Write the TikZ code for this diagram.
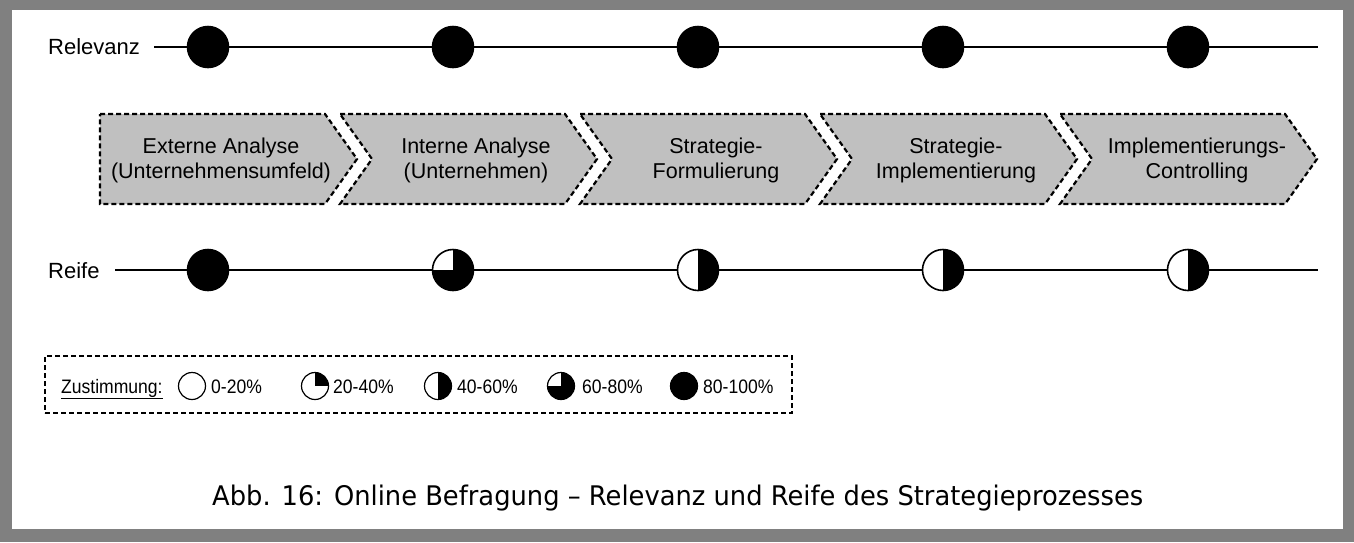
\documentclass[tikz,border=0pt]{standalone}
\usepackage{fontspec}
\usepackage{graphicx}
\setmainfont{Liberation Sans}
\newfontfamily\legfont[FakeStretch=0.9]{Liberation Sans}
\newfontfamily\capfont{DejaVu Sans}
\definecolor{framegray}{HTML}{808080}
\definecolor{chevgray}{HTML}{C0C0C0}
\begin{document}
\begin{tikzpicture}[x=1pt,y=-1pt,
  lbl/.style={inner sep=0pt, font=\fontsize{22}{26}\selectfont},
  ctext/.style={inner sep=0pt, align=center, font=\fontsize{21.5}{25}\selectfont},
  chev/.style={draw=black, fill=chevgray, line width=2.2pt, dash pattern=on 5pt off 3pt, line join=miter},
  rowline/.style={draw=black, line width=2pt},
  dot/.style={circle, draw=black, line width=1.6pt, minimum size=41pt, inner sep=0pt},
  ldot/.style={circle, draw=black, line width=1.2pt, minimum size=27pt, inner sep=0pt},
  pfull/.style={fill=black},
  pempty/.style={fill=white},
  pq1/.style={fill=white, path picture={\fill[black] (path picture bounding box.center) rectangle (path picture bounding box.north east);}},
  phalf/.style={fill=white, path picture={\fill[black] (path picture bounding box.south) rectangle (path picture bounding box.north east);}},
  pq3/.style={fill=black, path picture={\fill[white] (path picture bounding box.center) rectangle (path picture bounding box.north west);}},
  legbox/.style={draw=black, line width=2.2pt, dash pattern=on 5pt off 3pt, inner sep=0pt},
  legtxt/.style={inner sep=0pt, anchor=base west, font=\legfont\fontsize{19.5}{22}\selectfont},
]
\useasboundingbox (0,0) rectangle (1354,542);
% frame
\fill[framegray] (0,0) rectangle (1354,542);
\fill[white] (12,10) rectangle (1343,529);

% Relevanz row
\node[lbl, anchor=base west] (relLbl) at (48,54) {Relevanz};
\coordinate (relL) at (154,47);
\coordinate (relR) at (1318,47);
\node[dot,pfull] (r1) at (208,47) {};
\node[dot,pfull] (r2) at (453,47) {};
\node[dot,pfull] (r3) at (698,47) {};
\node[dot,pfull] (r4) at (943,47) {};
\node[dot,pfull] (r5) at (1188,47) {};
\draw[rowline] (relL) -- (r1) (r1) -- (r2) (r2) -- (r3) (r3) -- (r4) (r4) -- (r5) (r5) -- (relR);

% chevrons
\draw[chev] (100,114) -- (325,114) -- (357,159) -- (325,204) -- (100,204) -- cycle;
\foreach \s in {340,580,820,1060}{
  \draw[chev] (\s,114) -- ++(225,0) -- ++(32,45) -- ++(-32,45) -- ++(-225,0) -- ++(32,-45) -- cycle;
}
\node[ctext] (c1) at (221,160) {Externe Analyse\\(Unternehmensumfeld)};
\node[ctext] (c2) at (476,160) {Interne Analyse\\(Unternehmen)};
\node[ctext] (c3) at (716,160) {Strategie-\\Formulierung};
\node[ctext] (c4) at (956,160) {Strategie-\\Implementierung};
\node[ctext] (c5) at (1197,160) {Implementierungs-\\Controlling};

% Reife row
\node[lbl, anchor=base west] (reiLbl) at (48,278) {Reife};
\coordinate (reiL) at (115,270);
\coordinate (reiR) at (1318,270);
\node[dot,pfull] (f1) at (208,270) {};
\node[dot,pq3] (f2) at (453,270) {};
\node[dot,phalf] (f3) at (698,270) {};
\node[dot,phalf] (f4) at (943,270) {};
\node[dot,phalf] (f5) at (1188,270) {};
\draw[rowline] (reiL) -- (f1) (f1) -- (f2) (f2) -- (f3) (f3) -- (f4) (f4) -- (f5) (f5) -- (reiR);

% legend
\node[legbox, minimum width=747pt, minimum height=57pt] (leg) at (418.5,384.5) {};
\node[legtxt] (zust) at (61,393) {\underline{Zustimmung:}};
\node[ldot,pempty] (l1) at (192,386) {};
\node[ldot,pq1] (l2) at (315,386) {};
\node[ldot,phalf] (l3) at (438,386) {};
\node[ldot,pq3] (l4) at (561,386) {};
\node[ldot,pfull] (l5) at (684,386) {};
\node[legtxt] (t1) at (211,393) {0-20\%};
\node[legtxt] (t2) at (333,393) {20-40\%};
\node[legtxt] (t3) at (457,393) {40-60\%};
\node[legtxt] (t4) at (582,393) {60-80\%};
\node[legtxt] (t5) at (703,393) {80-100\%};

% caption
\node[inner sep=0pt, anchor=base west] (cap) at (212,505) {\resizebox{931pt}{\height}{\capfont\fontsize{27}{32}\selectfont Abb. 16: Online Befragung – Relevanz und Reife des Strategieprozesses}};
\end{tikzpicture}
\end{document}
